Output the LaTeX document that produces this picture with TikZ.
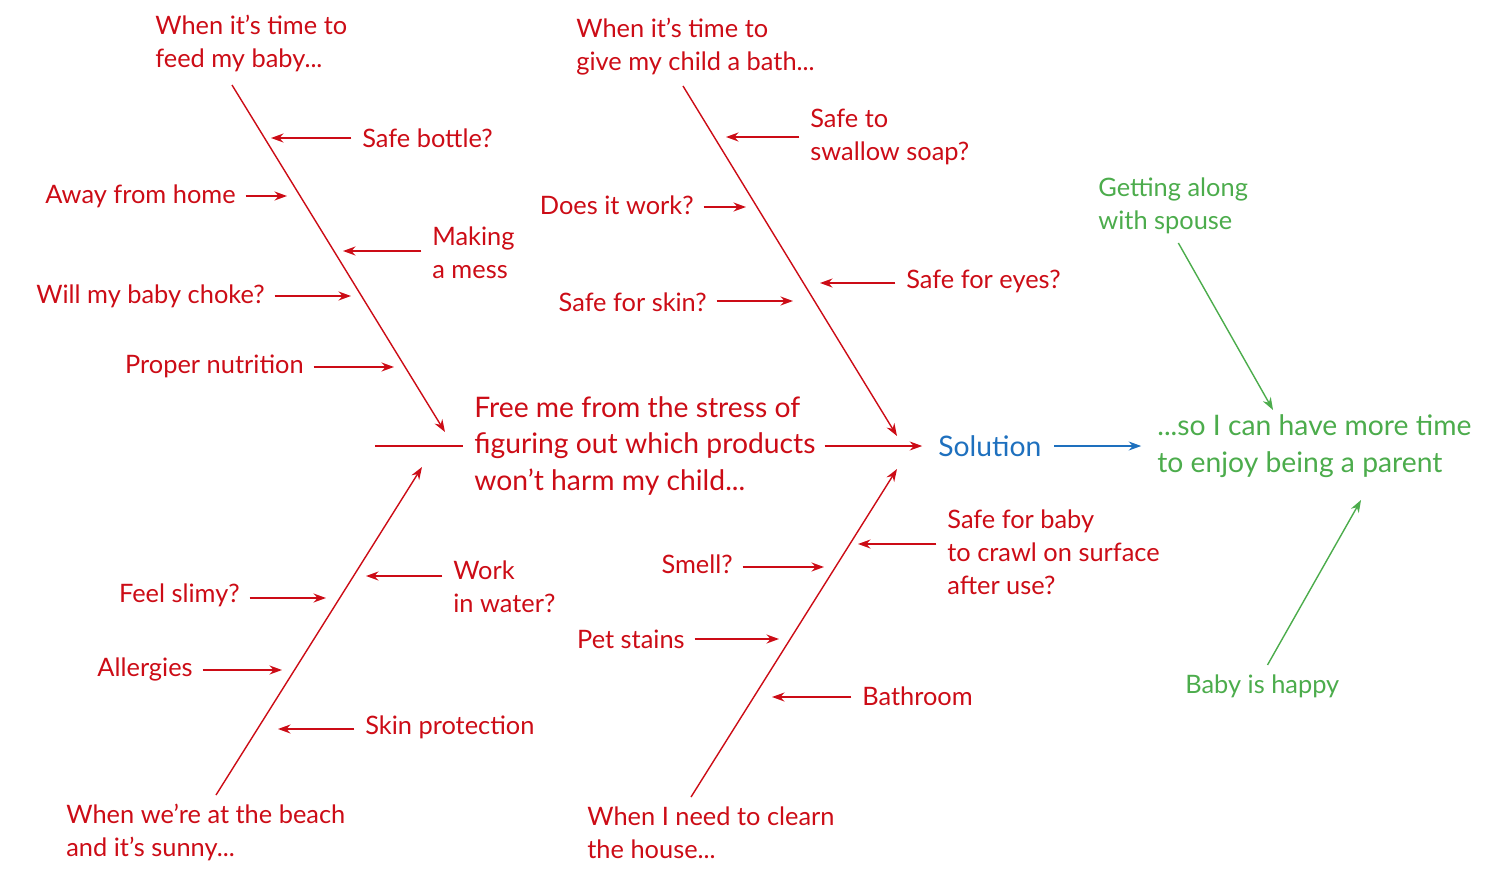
\documentclass[tikz,border=0pt]{standalone}
\usepackage{fontspec}
\setmainfont{Lato}
\usepackage{xcolor}
\definecolor{fbRed}{RGB}{204,12,22}
\definecolor{fbBlue}{RGB}{30,112,190}
\definecolor{fbGreen}{RGB}{76,172,76}
\usepackage{tikz}
\usetikzlibrary{positioning,arrows.meta,calc}

\begin{document}
\begin{tikzpicture}[
  x=0.02cm,y=-0.02cm,
  cause/.style={font=\fontsize{14.45}{18.7}\selectfont,text=fbRed,inner sep=0pt,align=left},
  big/.style={font=\fontsize{16.1}{21}\selectfont,inner sep=0pt,align=left},
  bone/.style={fbRed,line width=0.8pt,-{Stealth[length=2.5mm,width=1.8mm]}},
  sub/.style={fbRed,line width=0.8pt,-{Stealth[length=2.5mm,width=1.8mm]}},
  link/.style={line width=0.8pt,-{Stealth[length=2.5mm,width=1.8mm]}}]

  \useasboundingbox (0,0) rectangle (1500,882);

  % the four bones and their heads
  \node[cause,anchor=west] (feed)  at (155,43.5)  {When it’s time to\\feed my baby...};
  \node[cause,anchor=west] (bath)  at (576,46.5)  {When it’s time to\\give my child a bath...};
  \node[cause,anchor=west] (beach) at (66,832.5)  {When we’re at the beach\\and it’s sunny...};
  \node[cause,anchor=west] (house) at (587,832.5) {When I need to clearn\\the house...};

  \coordinate (feedS) at (232,85);   \coordinate (feedE) at (445,432);
  \coordinate (bathS) at (683,86);   \coordinate (bathE) at (897,436);
  \coordinate (beachS) at (216,795); \coordinate (beachE) at (422,467);
  \coordinate (houseS) at (691,797); \coordinate (houseE) at (897,469);
  \foreach \b in {feed,bath,beach,house}
    \draw[bone] (\b S) -- (\b E);

  % causes on the left of a bone
  \foreach \nm/\lx/\ly/\tx/\ty/\txt in {
      away/236/196/287/196/{Away from home},
      choke/265/296/351/296/{Will my baby choke?},
      nutrition/304/366/394/367/{Proper nutrition},
      works/694/205/746/207/{Does it work?},
      skin/707/302/793/301/{Safe for skin?},
      slimy/240/595/326/598/{Feel slimy?},
      allergy/193/669/282/670/{Allergies},
      smell/733/564/824/567/{Smell?},
      stains/685/639/779/639/{Pet stains}}{
    \node[cause,anchor=east] (\nm) at (\lx,\ly) {\txt};
    \coordinate (\nm-t) at (\tx,\ty);
    \draw[sub,shorten <=5.5pt] (\nm.east |- \nm-t) -- (\nm-t);
  }

  % causes on the right of a bone
  \foreach \nm/\lx/\ly/\tx/\ty/\txt in {
      bottle/362/138/271/138/{Safe bottle?},
      mess/432/253/343/251/{Making\\a mess},
      soap/810/137/726/137/{Safe to\\swallow soap?},
      eyes/906/281/820/283/{Safe for eyes?},
      water/453/587/366/576/{Work\\in water?},
      protect/365/727/278/729/{Skin protection},
      crawl/947/552/858/544/{Safe for baby\\to crawl on surface\\after use?},
      bathroom/862/696/772/697/{Bathroom}}{
    \node[cause,anchor=west] (\nm) at (\lx,\ly) {\txt};
    \coordinate (\nm-t) at (\tx,\ty);
    \draw[sub,shorten <=6pt] (\nm.west |- \nm-t) -- (\nm-t);
  }

  % spine
  \node[big,text=fbRed,anchor=west] (problem) at (474,446)
    {Free me from the stress of\\figuring out which products\\won’t harm my child...};
  \node[big,text=fbBlue,anchor=west] (solution) at (938,446) {Solution};
  \node[big,text=fbGreen,anchor=west] (goal) at (1157,446)
    {...so I can have more time\\to enjoy being a parent};
  \coordinate (spineL) at (375,446);
  \draw[fbRed,line width=0.8pt,shorten >=6.5pt] (spineL) -- (problem.west);
  \draw[sub,shorten <=5pt,shorten >=9pt] (problem.east) -- (solution.west);
  \draw[link,fbBlue,shorten <=7pt,shorten >=9pt] (solution.east) -- (goal.west);

  % the good side
  \node[cause,text=fbGreen,anchor=west] (spouse) at (1098,205.5) {Getting along\\with spouse};
  \node[cause,text=fbGreen,anchor=west] (happy) at (1185,686) {Baby is happy};
  \coordinate (goalT) at (1273,410);
  \coordinate (goalB) at (1361,500);
  \draw[link,fbGreen,shorten <=6pt] (spouse.south) -- (goalT);
  \draw[link,fbGreen,shorten <=6pt] (happy.north) -- (goalB);
\end{tikzpicture}
\end{document}
